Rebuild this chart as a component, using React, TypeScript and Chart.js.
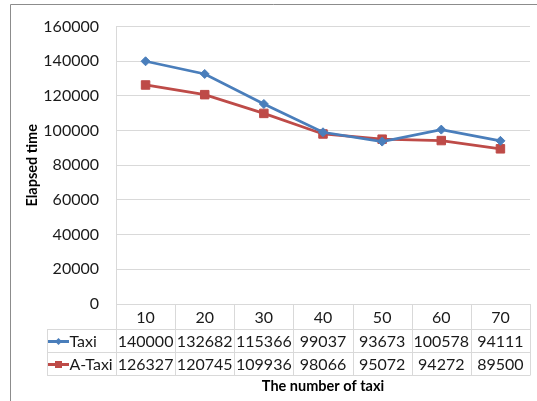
import React, { useEffect, useRef } from "react";
import { Chart, registerables } from "chart.js";

Chart.register(...registerables);

const categories = ["10", "20", "30", "40", "50", "60", "70"];
const taxiValues = [140000, 132682, 115366, 99037, 93673, 100578, 94111];
const aTaxiValues = [126327, 120745, 109936, 98066, 95072, 94272, 89500];
const seriesNames = ["Taxi", "A-Taxi"];
const yTitle = "Elapsed time";
const xTitle = "The number of taxi";

const BLUE = "#4A7EBB";
const RED = "#BE4B48";
const GRID = "#D9D9D9";
const TEXT = "#1a1a1a";
const FONT = "Lato, 'Open Sans', sans-serif";
const FONT_SIZE = 16;

// Data table under the category axis plus both axis titles and the frame
const tablePlugin = {
  id: "dataTable",
  afterDraw(chart: any) {
    const { ctx, chartArea } = chart;
    const x = chart.scales.x;
    const n = categories.length;
    const step = (chartArea.right - chartArea.left) / n;
    const top = chartArea.bottom;
    const rowH = [25, 23, 23];
    const r1 = top + rowH[0];
    const r2 = r1 + rowH[1];
    const r3 = r2 + rowH[2];
    const tableLeft = 47;

    ctx.save();
    // outer frame (left and top edges)
    ctx.strokeStyle = "#8c8c8c";
    ctx.lineWidth = 1;
    ctx.beginPath();
    ctx.moveTo(10.5, 401);
    ctx.lineTo(10.5, 4.5);
    ctx.lineTo(537, 4.5);
    ctx.stroke();

    // table grid
    ctx.strokeStyle = GRID;
    ctx.beginPath();
    for (const y of [r1, r2, r3]) {
      ctx.moveTo(tableLeft, Math.round(y) + 0.5);
      ctx.lineTo(chartArea.right, Math.round(y) + 0.5);
    }
    ctx.moveTo(tableLeft + 0.5, r1);
    ctx.lineTo(tableLeft + 0.5, r3 + 0.5);
    for (let i = 0; i <= n; i++) {
      const vx = Math.round(chartArea.left + i * step) + 0.5;
      ctx.moveTo(vx, top);
      ctx.lineTo(vx, r3 + 0.5);
    }
    ctx.stroke();

    // header and values
    ctx.fillStyle = TEXT;
    ctx.font = `${FONT_SIZE}px ${FONT}`;
    ctx.textAlign = "center";
    ctx.textBaseline = "middle";
    const rows = [taxiValues, aTaxiValues];
    categories.forEach((c, i) => {
      const cx = x.getPixelForValue(i);
      ctx.fillText(c, cx, (top + r1) / 2 + 1);
      ctx.fillText(String(rows[0][i]), cx, (r1 + r2) / 2 + 1);
      ctx.fillText(String(rows[1][i]), cx, (r2 + r3) / 2 + 1);
    });

    // legend keys in the first column
    const keys = [
      { name: seriesNames[0], color: BLUE, y: (r1 + r2) / 2 + 1, shape: "diamond" },
      { name: seriesNames[1], color: RED, y: (r2 + r3) / 2 + 1, shape: "square" },
    ];
    for (const k of keys) {
      ctx.strokeStyle = k.color;
      ctx.fillStyle = k.color;
      ctx.lineWidth = 3;
      ctx.beginPath();
      ctx.moveTo(48, k.y);
      ctx.lineTo(69, k.y);
      ctx.stroke();
      ctx.beginPath();
      if (k.shape === "diamond") {
        ctx.moveTo(58.5, k.y - 3.5);
        ctx.lineTo(62, k.y);
        ctx.lineTo(58.5, k.y + 3.5);
        ctx.lineTo(55, k.y);
      } else {
        ctx.rect(55, k.y - 3.5, 7, 7);
      }
      ctx.closePath();
      ctx.fill();
      ctx.fillStyle = TEXT;
      ctx.textAlign = "left";
      ctx.fillText(k.name, 69.5, k.y);
    }

    // axis titles
    ctx.font = `bold 14.5px ${FONT}`;
    ctx.fillStyle = "#000";
    ctx.textAlign = "center";
    ctx.fillText(xTitle, (chartArea.left + chartArea.right) / 2, 386);
    ctx.translate(32, (chartArea.top + chartArea.bottom) / 2);
    ctx.rotate(-Math.PI / 2);
    ctx.fillText(yTitle, 0, 0);
    ctx.restore();
  },
};

export default function App() {
  const ref = useRef<HTMLCanvasElement>(null);

  useEffect(() => {
    if (!ref.current) return;
    const chart = new Chart(ref.current, {
      type: "line",
      data: {
        labels: categories,
        datasets: [
          {
            label: seriesNames[0],
            data: taxiValues,
            borderColor: BLUE,
            backgroundColor: BLUE,
            borderWidth: 2.75,
            pointStyle: "rectRot",
            pointRadius: 4.5,
            pointBorderWidth: 1,
            tension: 0,
          },
          {
            label: seriesNames[1],
            data: aTaxiValues,
            borderColor: RED,
            backgroundColor: RED,
            borderWidth: 2.75,
            pointStyle: "rect",
            pointRadius: 6,
            pointBorderWidth: 1,
            tension: 0,
          },
        ],
      },
      options: {
        animation: false,
        responsive: false,
        devicePixelRatio: 1,
        layout: { padding: { top: 18, right: 7, left: 0, bottom: 0 } },
        plugins: { legend: { display: false }, tooltip: { enabled: false } },
        scales: {
          x: {
            offset: true,
            grid: { display: false },
            border: { display: false },
            ticks: { display: false },
            afterFit: (s: any) => {
              s.height = 97;
            },
          },
          y: {
            min: 0,
            max: 160000,
            ticks: {
              stepSize: 20000,
              padding: 17,
              color: TEXT,
              font: { family: FONT, size: FONT_SIZE },
              callback: (v: any) => String(v),
            },
            grid: { color: GRID, drawTicks: false },
            border: { color: GRID },
            afterFit: (s: any) => {
              s.width = 116;
            },
          },
        },
      },
      plugins: [tablePlugin],
    });
    return () => chart.destroy();
  }, []);

  return (
    <div style={{ position: "fixed", left: 0, top: 0, width: 537, height: 401, background: "#fff" }}>
      <canvas ref={ref} width={537} height={401} />
    </div>
  );
}
